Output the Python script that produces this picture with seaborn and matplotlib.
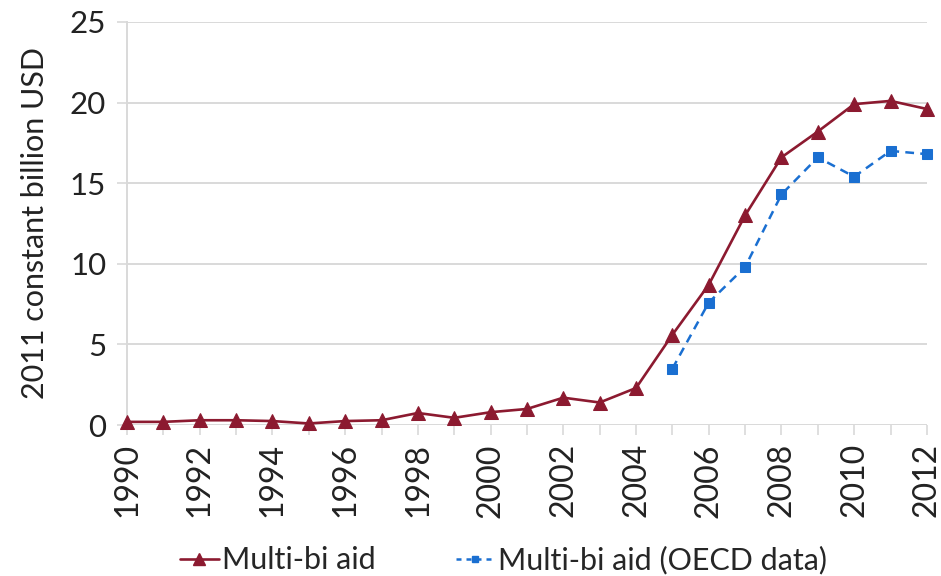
import matplotlib
matplotlib.use("Agg")
import matplotlib.pyplot as plt
import matplotlib.lines as mlines
import seaborn as sns
import pandas as pd

# Multi-bi aid, 2011 constant billion USD
years = list(range(1990, 2013))
multi_bi = [0.2, 0.2, 0.3, 0.3, 0.25, 0.1, 0.25, 0.3, 0.75, 0.45, 0.8, 1.0,
            1.7, 1.4, 2.3, 5.6, 8.7, 13.0, 16.6, 18.2, 19.9, 20.1, 19.6]

# OECD-reported series, available from 2005
oecd_years = list(range(2005, 2013))
multi_bi_oecd = [3.5, 7.6, 9.8, 14.3, 16.6, 15.4, 17.0, 16.8]

ytick_values = [0, 5, 10, 15, 20, 25]
xtick_labels = [str(y) if y % 2 == 0 else "" for y in years]

RED = "#8c1a30"
BLUE = "#1a6fd1"
GRID = "#d9d9d9"
TEXT = "#222222"

sns.set_theme(style="white")
plt.rcParams["font.family"] = ["Lato", "DejaVu Sans"]

fig = plt.figure(figsize=(9.41, 5.76), dpi=100)
ax = fig.add_axes([0.135, 0.262, 0.850, 0.700])

df_main = pd.DataFrame({"year": years, "value": multi_bi})
df_oecd = pd.DataFrame({"year": oecd_years, "value": multi_bi_oecd})

sns.lineplot(data=df_main, x="year", y="value", ax=ax, color=RED, lw=1.9,
             marker="^", markersize=10, markeredgecolor=RED, clip_on=False,
             zorder=4)
sns.lineplot(data=df_oecd, x="year", y="value", ax=ax, color=BLUE, lw=1.8,
             linestyle=(0, (3.5, 2.5)), marker="s", markersize=6.5,
             markeredgecolor=BLUE, clip_on=False, zorder=3)

ax.set_xlim(1990, 2012)
ax.set_ylim(0, 25)
ax.set_yticks(ytick_values)
ax.set_yticklabels([str(v) for v in ytick_values], fontsize=22.5, color=TEXT)
ax.set_xticks(years)
ax.set_xticklabels(xtick_labels, rotation=90, fontsize=23, color=TEXT)

ax.grid(axis="y", color=GRID, lw=1.4)
ax.grid(axis="x", visible=False)
ax.set_axisbelow(True)

for side in ["top", "right", "bottom"]:
    ax.spines[side].set_visible(False)
ax.spines["left"].set_color(GRID)
ax.spines["left"].set_linewidth(1.4)

ax.tick_params(axis="y", which="major", direction="out", length=7,
               width=1.2, color=GRID, pad=8, left=True)
ax.tick_params(axis="x", which="major", direction="out", length=7,
               width=1.2, color=GRID, pad=6, bottom=True)

ax.set_xlabel("")
ax.set_ylabel("2011 constant billion USD", fontsize=22, color=TEXT,
              labelpad=15)

h1 = mlines.Line2D([], [], color=RED, lw=1.9, marker="^", markersize=9,
                   markeredgecolor=RED)
h2 = mlines.Line2D([], [], color=BLUE, lw=1.8, linestyle=(0, (2, 2)),
                   marker="s", markersize=5, markeredgecolor=BLUE)
fig.legend([h1, h2], ["Multi-bi aid", "Multi-bi aid (OECD data)"],
           loc="lower center", bbox_to_anchor=(0.535, -0.045), ncol=2,
           frameon=False, fontsize=22, handlelength=1.3, handletextpad=0.1,
           columnspacing=2.6)

fig.savefig("out.png", dpi=100)
